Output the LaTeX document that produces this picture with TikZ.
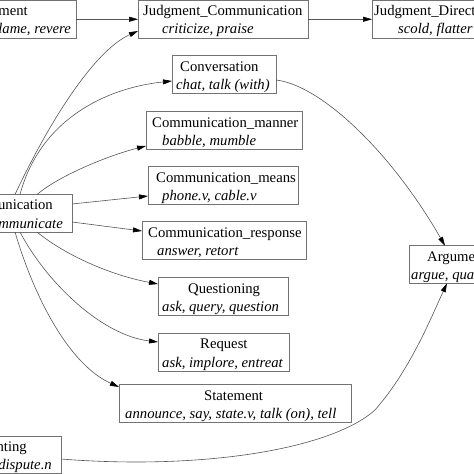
\documentclass[tikz,border=0pt]{standalone}
\usepackage{fontspec}
\setmainfont{Liberation Serif}
\usetikzlibrary{arrows.meta}

\begin{document}
\begin{tikzpicture}[x=1pt,y=-1pt,
  box/.style={draw=boxcolor,line width=0.8pt,inner sep=0pt,outer sep=0pt,minimum height=37.5pt},
  edge/.style={draw=edgecolor,line width=0.6pt,-{Triangle[length=9pt,width=5pt,color=black]}},
  lu/.style={font=\fontsize{14.7}{17}\selectfont\itshape,inner sep=0pt},
  frame/.style={font=\fontsize{14.7}{17}\selectfont,inner sep=0pt}]
\definecolor{boxcolor}{RGB}{115,115,115}
\definecolor{edgecolor}{RGB}{85,85,85}
\useasboundingbox (0,0) rectangle (474,474);
\clip (0,0) rectangle (474,474);
% boxes
\node (judg) [box,minimum width=156pt] at (-2,19.25) {};
\node (jc) [box,minimum width=170pt] at (223,19.25) {};
\node (jd) [box,minimum width=188pt] at (466,19.25) {};
\node (conv) [box,minimum width=104pt] at (224,74.5) {};
\node (cman) [box,minimum width=156pt] at (224,130.5) {};
\node (cmeans) [box,minimum width=150pt] at (223,185.5) {};
\node (comm) [box,minimum width=152pt] at (-4,213.25) {};
\node (cresp) [box,minimum width=164pt] at (224,240.5) {};
\node (quest) [box,minimum width=130pt] at (223,296.5) {};
\node (req) [box,minimum width=131pt] at (223.5,352.25) {};
\node (stmt) [box,minimum width=232pt] at (235,403.5) {};
\node (arg) [box,minimum width=151pt] at (484.5,264.5) {};
\node (argu) [box,minimum width=141pt] at (-9.5,455) {};
% frame names and lexical units
\node (judg1) [frame,anchor=base east] at (28,15.5) {Judgment};
\node (judg2) [lu,anchor=base east] at (71,33.5) {admire, blame, revere};
\node (jc1) [frame,anchor=base west] at (143,15.5) {Judgment\_Communication};
\node (jc2) [lu,anchor=base west] at (162,33.5) {criticize, praise};
\node (jd1) [frame,anchor=base west] at (374,15.5) {Judgment\_Direct\_address};
\node (jd2) [lu,anchor=base west] at (398,33.5) {scold, flatter};
\node (conv1) [frame,anchor=base west] at (180,71) {Conversation};
\node (conv2) [lu,anchor=base west] at (176,89.5) {chat, talk (with)};
\node (cman1) [frame,anchor=base west] at (152,127) {Communication\_manner};
\node (cman2) [lu,anchor=base west] at (162,145.5) {babble, mumble};
\node (cmeans1) [frame,anchor=base west] at (156,182) {Communication\_means};
\node (cmeans2) [lu,anchor=base west] at (162,200.5) {phone.v, cable.v};
\node (comm1) [frame,anchor=base east] at (53,209.5) {Communication};
\node (comm2) [lu,anchor=base east] at (63,228) {communicate};
\node (cresp1) [frame,anchor=base west] at (148,237) {Communication\_response};
\node (cresp2) [lu,anchor=base west] at (157,255.5) {answer, retort};
\node (quest1) [frame,anchor=base west] at (188,293) {Questioning};
\node (quest2) [lu,anchor=base west] at (162,311.5) {ask, query, question};
\node (req1) [frame,anchor=base west] at (200,348.5) {Request};
\node (req2) [lu,anchor=base west] at (162,367) {ask, implore, entreat};
\node (stmt1) [frame,anchor=base west] at (204,400) {Statement};
\node (stmt2) [lu,anchor=base west] at (125,418.5) {announce, say, state.v, talk (on), tell};
\node (arg1) [frame,anchor=base west] at (427,261) {Argument};
\node (arg2) [lu,anchor=base west] at (411,279.5) {argue, quarrel};
\node (argu1) [frame,anchor=base east] at (27,451) {Dissenting};
\node (argu2) [lu,anchor=base east] at (52,469.5) {disagree, dispute.n};
% edges
\draw [edge] (judg.east) -- (jc.west);
\draw [edge] (jc.east) -- (jd.west);
\draw [edge] ([xshift=-57pt]comm.north east) .. controls (50,120) and (95,50) .. ([yshift=-11.75pt]jc.west);
\draw [edge] ([xshift=-52pt]comm.north east) .. controls (40,120) and (105,88) .. ([yshift=-6.5pt]conv.west);
\draw [edge] ([xshift=-35pt]comm.north east) .. controls (60,175) and (110,155) .. ([yshift=-15.5pt]cman.west);
\draw [edge] ([yshift=9.25pt]comm.east) -- ([yshift=-10.5pt]cmeans.west);
\draw [edge] ([yshift=-8.75pt]comm.east) -- ([yshift=9.5pt]cresp.west);
\draw [edge] ([xshift=-35pt]comm.south east) .. controls (65,255) and (110,275) .. ([yshift=12.5pt]quest.west);
\draw [edge] ([xshift=-52pt]comm.south east) .. controls (45,280) and (100,335) .. ([yshift=10.25pt]req.west);
\draw [edge] ([xshift=-57pt]comm.south east) .. controls (35,300) and (70,365) .. ([yshift=16.5pt]stmt.west);
\draw [edge] ([yshift=-5.5pt]conv.east) .. controls (320,85) and (390,150) .. ([xshift=36pt]arg.north west);
\draw [edge] ([yshift=-4pt]argu.east) .. controls (200,470) and (330,450) .. (375,410)
  .. controls (410,370) and (430,320) .. ([xshift=38pt]arg.south west);
\end{tikzpicture}
\end{document}
